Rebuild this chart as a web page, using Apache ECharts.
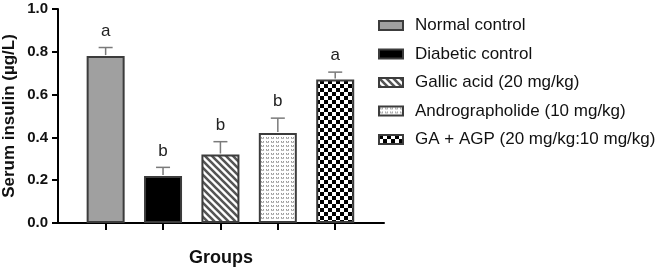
<!DOCTYPE html>
<html>
<head>
<meta charset="utf-8">
<script src="https://cdn.jsdelivr.net/npm/echarts@6/dist/echarts.min.js"></script>
<style>
  html, body { margin: 0; padding: 0; background: #fff; }
  #chart { width: 672px; height: 272px; }
</style>
</head>
<body>
<div id="chart"></div>
<script>
// groups in plot order
const groups = [
  'Normal control',
  'Diabetic control',
  'Gallic acid (20 mg/kg)',
  'Andrographolide (10 mg/kg)',
  'GA + AGP (20 mg/kg:10 mg/kg)'
]
// serum insulin mean (µg/L) and error (upper bar only)
const insulin = [0.78, 0.22, 0.32, 0.42, 0.67]
const errors = [0.04, 0.04, 0.06, 0.07, 0.035]
const letters = ['a', 'b', 'b', 'b', 'a']
const positions = [0, 1, 2, 3, 4]

const makeTile = (w, h, draw) => {
  const c = document.createElement('canvas')
  c.width = w
  c.height = h
  const ctx = c.getContext('2d')
  ctx.fillStyle = '#fff'
  ctx.fillRect(0, 0, w, h)
  draw(ctx)
  return { image: c, repeat: 'repeat' }
}

const stripes = makeTile(7, 7, ctx => {
  ctx.strokeStyle = '#555'
  ctx.lineWidth = 2.6
  ctx.beginPath()
  for (let k = -7; k <= 7; k += 7) {
    ctx.moveTo(k - 1, -1)
    ctx.lineTo(k + 8, 8)
  }
  ctx.stroke()
})

const dots = makeTile(5, 4, ctx => {
  ctx.fillStyle = '#9a9a9a'
  ctx.fillRect(1, 1, 1, 1)
  ctx.fillRect(3, 1, 1, 1)
  ctx.fillStyle = '#b8b8b8'
  ctx.fillRect(2, 2, 1, 1)
  ctx.fillRect(1, 2, 1, 1)
  ctx.fillRect(3, 2, 1, 1)
})

const checker = makeTile(8, 8, ctx => {
  ctx.fillStyle = '#000'
  ctx.fillRect(0, 0, 4, 4)
  ctx.fillRect(4, 4, 4, 4)
})

const fills = ['#a0a0a0', '#000000', stripes, dots, checker]

const chart = echarts.init(document.getElementById('chart'), null, { renderer: 'canvas' })

const barSeries = groups.map((name, i) => ({
  name,
  type: 'bar',
  barWidth: 38,
  barGap: '-100%',
  data: [[positions[i], insulin[i]]],
  itemStyle: {
    color: fills[i],
    borderColor: '#3c3c3c',
    borderWidth: 2
  },
  z: 2
}))

const errorSeries = {
  type: 'custom',
  name: 'error',
  data: positions.map((p, i) => [p, insulin[i], insulin[i] + errors[i]]),
  z: 3,
  renderItem: (params, api) => {
    const base = api.coord([api.value(0), api.value(1)])
    const top = api.coord([api.value(0), api.value(2)])
    const idx = params.dataIndex
    return {
      type: 'group',
      children: [
        {
          type: 'line',
          shape: { x1: top[0], y1: base[1] - 1, x2: top[0], y2: top[1] },
          style: { stroke: '#7a7a7a', lineWidth: 1.5 }
        },
        {
          type: 'line',
          shape: { x1: top[0] - 7, y1: top[1], x2: top[0] + 7, y2: top[1] },
          style: { stroke: '#7a7a7a', lineWidth: 1.5 }
        },
        {
          type: 'text',
          x: top[0],
          y: top[1] - 8,
          style: {
            text: letters[idx],
            fill: '#222',
            font: '17px Liberation Sans, Arial, sans-serif',
            textAlign: 'center',
            textVerticalAlign: 'bottom'
          }
        }
      ]
    }
  }
}

const option = {
  animation: false,
  textStyle: { fontFamily: 'Liberation Sans, Arial, sans-serif' },
  grid: { left: 58, right: 288, top: 9, bottom: 47 },
  legend: {
    orient: 'vertical',
    left: 373,
    top: 12,
    itemWidth: 24,
    itemHeight: 9,
    itemGap: 11.5,
    icon: 'rect',
    data: groups,
    textStyle: { fontSize: 17, color: '#111', padding: [0, 0, 0, 7] }
  },
  xAxis: {
    type: 'value',
    min: -0.83,
    max: 4.85,
    name: 'Groups',
    nameLocation: 'middle',
    nameGap: 26,
    nameTextStyle: { fontSize: 18, fontWeight: 'bold', color: '#111' },
    axisLine: { onZero: false, lineStyle: { color: '#000', width: 2 } },
    axisTick: { customValues: positions, length: 7, lineStyle: { color: '#000', width: 2 } },
    axisLabel: { show: false },
    splitLine: { show: false }
  },
  yAxis: {
    type: 'value',
    min: 0,
    max: 1,
    interval: 0.2,
    name: 'Serum insulin (µg/L)',
    nameLocation: 'middle',
    nameGap: 40,
    nameTextStyle: { fontSize: 17, fontWeight: 'bold', color: '#111' },
    axisLine: { show: true, onZero: false, lineStyle: { color: '#000', width: 2 } },
    axisTick: { show: true, length: 6, lineStyle: { color: '#000', width: 2 } },
    axisLabel: {
      margin: 10,
      fontSize: 15,
      fontWeight: 'bold',
      color: '#111',
      formatter: v => v.toFixed(1)
    },
    splitLine: { show: false }
  },
  series: [...barSeries, errorSeries]
}

chart.setOption(option)
</script>
</body>
</html>
